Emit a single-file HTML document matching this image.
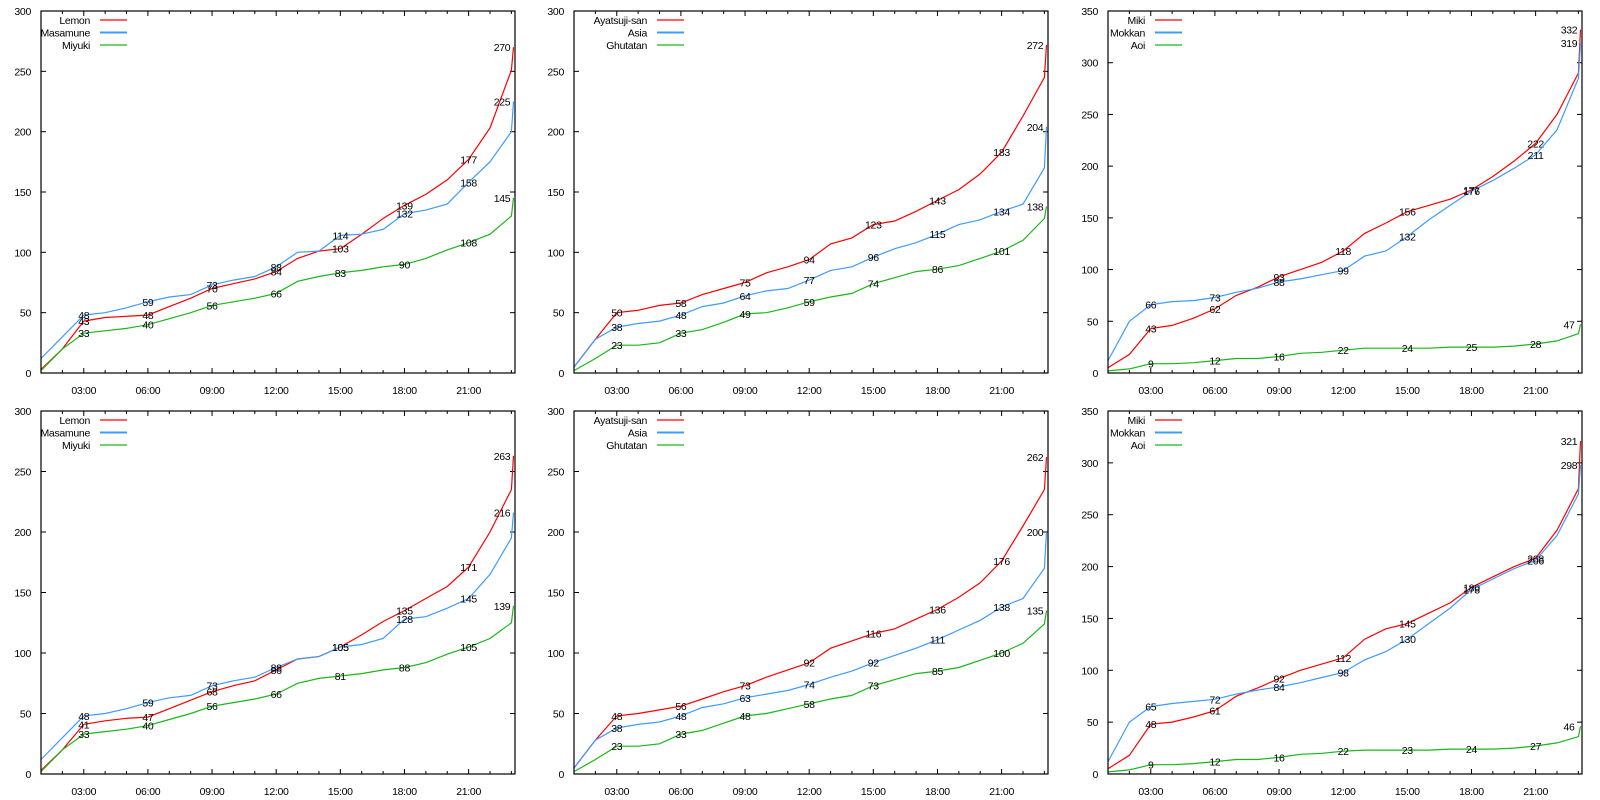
<!DOCTYPE html>
<html><head><meta charset="utf-8">
<style>
html,body{margin:0;padding:0;background:#fff;width:1600px;height:800px;overflow:hidden}
svg text{font-family:"Liberation Sans","Noto Sans CJK JP",sans-serif;font-size:10.5px;letter-spacing:-0.3px;fill:#000}
</style></head>
<body>
<svg id="chart" xmlns="http://www.w3.org/2000/svg" width="1600" height="800" viewBox="0 0 1600 800"></svg>
<script>
// shared x values (hours of day)
const hours = [1,2,3,4,5,6,7,8,9,10,11,12,13,14,15,16,17,18,19,20,21,22,23,23.1];
const xTickLabels = ["03:00","06:00","09:00","12:00","15:00","18:00","21:00"];
const xTickHours = [3,6,9,12,15,18,21];
const labelIdx = [2,5,8,11,14,17,20,23];

// panel 1 (top-left)
const p1Names = ["Lemon","Masamune","Miyuki"];
const p1Red   = [3,20,43,46,47,48,55,62,70,74,78,84,95,101,103,115,128,139,148,160,177,203,251,270];
const p1Blue  = [12,30,48,50,54,59,63,65,73,77,80,88,100,101,114,115,119,132,135,140,158,175,200,225];
const p1Green = [2,20,33,35,37,40,45,50,56,59,62,66,76,80,83,85,88,90,95,102,108,115,130,145];
// panel 2 (top-middle)
const p2Names = ["Ayatsuji-san","Asia","Ghutatan"];
const p2Red   = [5,28,50,52,56,58,65,70,75,83,88,94,107,112,123,126,134,143,152,165,183,213,245,272];
const p2Blue  = [5,28,38,41,43,48,55,58,64,68,70,77,85,88,96,103,108,115,123,127,134,140,170,204];
const p2Green = [2,12,23,23,25,33,36,42,49,50,54,59,63,66,74,79,84,86,89,95,101,110,128,138];
// panel 3 (top-right)
const p3Names = ["Miki","Mokkan","Aoi"];
const p3Red   = [5,18,43,46,53,62,75,83,93,100,107,118,135,145,156,162,168,177,190,205,222,250,290,332];
const p3Blue  = [12,50,66,69,70,73,78,82,88,91,95,99,113,118,132,148,162,176,186,198,211,235,285,319];
const p3Green = [2,4,9,9,10,12,14,14,16,19,20,22,24,24,24,24,25,25,25,26,28,31,38,47];
// panel 4 (bottom-left)
const p4Red   = [3,20,41,44,46,47,54,61,68,73,77,86,95,97,105,115,126,135,145,155,171,200,235,263];
const p4Blue  = [12,30,48,50,54,59,63,65,73,77,80,88,95,97,105,107,112,128,130,137,145,165,195,216];
const p4Green = [2,20,33,35,37,40,45,50,56,59,62,66,75,79,81,83,86,88,92,99,105,112,125,139];
// panel 5 (bottom-middle)
const p5Red   = [5,28,48,50,53,56,62,68,73,80,86,92,104,110,116,120,128,136,146,158,176,205,235,262];
const p5Blue  = [5,28,38,41,43,48,55,58,63,66,69,74,80,85,92,98,104,111,119,127,138,145,170,200];
const p5Green = [2,12,23,23,25,33,36,42,48,50,54,58,62,65,73,78,83,85,88,94,100,108,124,135];
// panel 6 (bottom-right)
const p6Red   = [5,18,48,50,55,61,75,83,92,100,106,112,130,140,145,155,165,180,190,200,208,235,275,321];
const p6Blue  = [12,50,65,68,70,72,77,81,84,88,93,98,110,118,130,145,160,178,188,198,206,230,270,298];
const p6Green = [2,4,9,9,10,12,14,14,16,19,20,22,23,23,23,23,24,24,24,25,27,30,36,46];

const NS = "http://www.w3.org/2000/svg";
const svg = document.getElementById("chart");
const colors = ["#ff0000","#3d9bff","#18b818"];

const panels = [
  {id:"panel-1",x:41,top:11,bottom:373,ymax:300,names:p1Names,series:[p1Red,p1Blue,p1Green],lw:49},
  {id:"panel-2",x:574,top:11,bottom:373,ymax:300,names:p2Names,series:[p2Red,p2Blue,p2Green],lw:73},
  {id:"panel-3",x:1108,top:11,bottom:373,ymax:350,names:p3Names,series:[p3Red,p3Blue,p3Green],lw:37},
  {id:"panel-4",x:41,top:411,bottom:774,ymax:300,names:p1Names,series:[p4Red,p4Blue,p4Green],lw:49},
  {id:"panel-5",x:574,top:411,bottom:774,ymax:300,names:p2Names,series:[p5Red,p5Blue,p5Green],lw:73},
  {id:"panel-6",x:1108,top:411,bottom:774,ymax:350,names:p3Names,series:[p6Red,p6Blue,p6Green],lw:37}
];
const W = 474, X0 = 1, X1 = 23.17;

function mk(tag, attrs, parent){
  const e = document.createElementNS(NS, tag);
  for (const k in attrs) e.setAttribute(k, attrs[k]);
  parent.appendChild(e);
  return e;
}

panels.forEach(p => {
  const g = mk("g", {}, svg);
  
  
  const sx = h => p.x + (h - X0) / (X1 - X0) * W;
  const sy = v => p.bottom - v / p.ymax * (p.bottom - p.top);
  const R = p.x + W;

  for (let v = 0; v <= p.ymax; v += 50) {
    const y = sy(v);
    const t = mk("text", {x:p.x - 10, y:y + 4, "text-anchor":"end"}, g);
    t.textContent = v;
    
    
    if (v > 0 && v < p.ymax) {
      mk("line", {x1:p.x, y1:y, x2:p.x + 5, y2:y, stroke:"#000", "stroke-width":1}, g);
      mk("line", {x1:R, y1:y, x2:R - 5, y2:y, stroke:"#000", "stroke-width":1}, g);
    }
  }
  for (let h = 2; h <= 23; h++) {
    const x = sx(h);
    const len = (h % 3 === 0) ? 5 : 3;
    mk("line", {x1:x, y1:p.bottom, x2:x, y2:p.bottom - len, stroke:"#000", "stroke-width":1}, g);
    mk("line", {x1:x, y1:p.top, x2:x, y2:p.top + len, stroke:"#000", "stroke-width":1}, g);
  }
  xTickHours.forEach((h, i) => {
    const t = mk("text", {x:sx(h), y:p.bottom + 21, "text-anchor":"middle"}, g);
    t.textContent = xTickLabels[i];
    
    
  });

  p.series.forEach((vals, si) => {
    const pts = vals.map((v, i) => sx(hours[i]).toFixed(1) + "," + sy(v).toFixed(1)).join(" ");
    const pl = mk("polyline", {points:pts, fill:"none", stroke:colors[si], "stroke-width":1.2}, g);
    
    
    labelIdx.forEach(i => {
      const last = i === vals.length - 1;
      const x = last ? R - 13 : sx(hours[i]);
      const t = mk("text", {x:x, y:sy(vals[i]) + 4, "text-anchor":"middle"}, g);
      t.textContent = vals[i];
      
      
    });
  });

  const fr = mk("rect", {x:p.x, y:p.top, width:W, height:p.bottom - p.top, fill:"none", stroke:"#000", "stroke-width":1.2}, g);
  
  

  p.names.forEach((n, si) => {
    const y = p.top + 9 + si * 12.5;
    const t = mk("text", {x:p.x + p.lw, y:y + 4, "text-anchor":"end"}, g);
    t.textContent = n;
    
    
    mk("line", {x1:p.x + p.lw + 10, y1:y, x2:p.x + p.lw + 37, y2:y, stroke:colors[si], "stroke-width":si === 1 ? 2 : 1.2}, g);
  });
});
</script>
</body></html>
